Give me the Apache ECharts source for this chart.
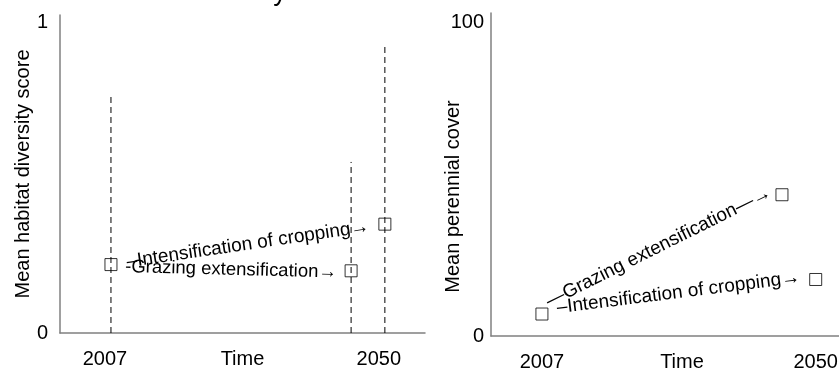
<!DOCTYPE html>
<html>
<head>
<meta charset="utf-8">
<script src="https://cdn.jsdelivr.net/npm/echarts@6/dist/echarts.min.js"></script>
<style>
html,body{margin:0;padding:0;background:#fff;}
#c{width:839px;height:370px;}
</style>
</head>
<body>
<div id="c"></div>
<script>
// ---- data ----
const yearTicks = [2007, 2050];
const leftYTicks = [0, 1];
const rightYTicks = [0, 100];
const titleText = 'Mean habitat diversity results';
const leftYName = 'Mean habitat diversity score';
const rightYName = 'Mean perennial cover';
const xName = 'Time';
// points: [baseline 2007, intensification of cropping 2050, grazing extensification 2050 (drawn offset)]
const leftX = [2007, 2050, 2044.7];
const leftY = [0.22, 0.35, 0.20];
const leftUpper = [0.76, 0.93, 0.55];
const rightX = [2007, 2050, 2044.7];
const rightY = [7, 18, 45];
const leftNotes = ['\u2013Intensification of cropping\u2192', '-Grazing extensification\u2192'];
const rightNotes = ['\u2013Intensification of cropping\u2192', '\u2014Grazing extensification\u2014\u2192'];

const FONT = '"Liberation Sans", Arial, sans-serif';
const FS = 20;
const NFS = 19;
const axisGray = '#808080';

function xAx(grid, max, pad) {
  return {
    type: 'value', gridIndex: grid, min: 1999, max: max,
    axisLine: {show: true, onZero: false, lineStyle: {color: axisGray, width: 1.5}},
    axisTick: {show: false}, splitLine: {show: false},
    axisLabel: {customValues: yearTicks, formatter: v => String(v), fontSize: FS, fontFamily: FONT, color: '#000', margin: 16, padding: pad},
    name: xName, nameLocation: 'middle', nameGap: 16, nameMoveOverlap: false,
    nameTextStyle: {fontSize: FS, fontFamily: FONT, color: '#000', verticalAlign: 'top'}
  };
}
function yAx(grid, max, ticks, name, margin, gap, npad) {
  return {
    type: 'value', gridIndex: grid, min: 0, max: max,
    axisLine: {show: true, onZero: false, lineStyle: {color: axisGray, width: 1.5}},
    axisTick: {show: false}, splitLine: {show: false},
    axisLabel: {customValues: ticks, fontSize: FS, fontFamily: FONT, color: '#000', margin: margin},
    name: name, nameLocation: 'middle', nameGap: gap, nameMoveOverlap: false,
    nameTextStyle: {fontSize: FS, fontFamily: FONT, color: '#000', padding: npad}
  };
}

const markerStyle = {color: 'rgba(0,0,0,0)', borderColor: '#000', borderWidth: 1};
const series = [];
series.push({
  type: 'scatter', xAxisIndex: 0, yAxisIndex: 0, symbol: 'rect', symbolSize: 12,
  itemStyle: markerStyle, data: leftX.map((x, i) => [x, leftY[i]]), z: 5
});
leftX.forEach((x, i) => {
  series.push({
    type: 'line', xAxisIndex: 0, yAxisIndex: 0, symbol: 'none',
    lineStyle: {color: '#000', width: 1, type: [6, 4]},
    data: [[x, 0], [x, leftUpper[i]]], z: 3
  });
});
series.push({
  type: 'scatter', xAxisIndex: 1, yAxisIndex: 1, symbol: 'rect', symbolSize: 12,
  itemStyle: {color: '#fff', borderColor: '#000', borderWidth: 1}, data: rightX.map((x, i) => [x, rightY[i]]), z: 5
});

const chart = echarts.init(document.getElementById('c'));
chart.setOption({
  animation: false,
  backgroundColor: '#fff',
  grid: [
    {left: 60, top: 15, width: 365, height: 318, outerBoundsMode: 'none', containLabel: false},
    {left: 491, top: 13, width: 382, height: 323, outerBoundsMode: 'none', containLabel: false}
  ],
  xAxis: [xAx(0, 2056.3, [0, 12, 0, 0]), xAx(1, 2059, [0, 0, 0, 0])],
  yAxis: [yAx(0, 1.0225, leftYTicks, leftYName, 12, 27, [0, 0, 0, 0]), yAx(1, 102.9, rightYTicks, rightYName, 7, 28, [0, 44, 0, 0])],
  series: series
});

function note(idx, p0, p1, text, off, fs) {
  const a = chart.convertToPixel({xAxisIndex: idx, yAxisIndex: idx}, p0);
  const b = chart.convertToPixel({xAxisIndex: idx, yAxisIndex: idx}, p1);
  const th = Math.atan2(a[1] - b[1], b[0] - a[0]);
  const mx = (a[0] + b[0]) / 2 - off * Math.sin(th);
  const my = (a[1] + b[1]) / 2 - off * Math.cos(th);
  return {
    type: 'text', x: mx, y: my, rotation: th, z: 10,
    style: {text: text, fontSize: fs, fontFamily: FONT, fill: '#000', align: 'center', verticalAlign: 'middle'}
  };
}
const g = [
  note(0, [leftX[0], leftY[0]], [leftX[1], leftY[1]], leftNotes[0], 0, NFS),
  note(0, [leftX[0], leftY[0]], [leftX[2], leftY[2]], leftNotes[1], -2, 18.5),
  note(1, [rightX[0], rightY[0]], [rightX[1], rightY[1]], rightNotes[0], 4, NFS),
  note(1, [rightX[0], rightY[0]], [rightX[2], rightY[2]], rightNotes[1], 8, NFS),
  {type: 'text', x: 24, y: 6, z: 10, style: {text: titleText, fontSize: 27, fontFamily: FONT, fill: '#000', align: 'left', verticalAlign: 'bottom'}}
];
chart.setOption({graphic: g});
</script>
</body>
</html>
